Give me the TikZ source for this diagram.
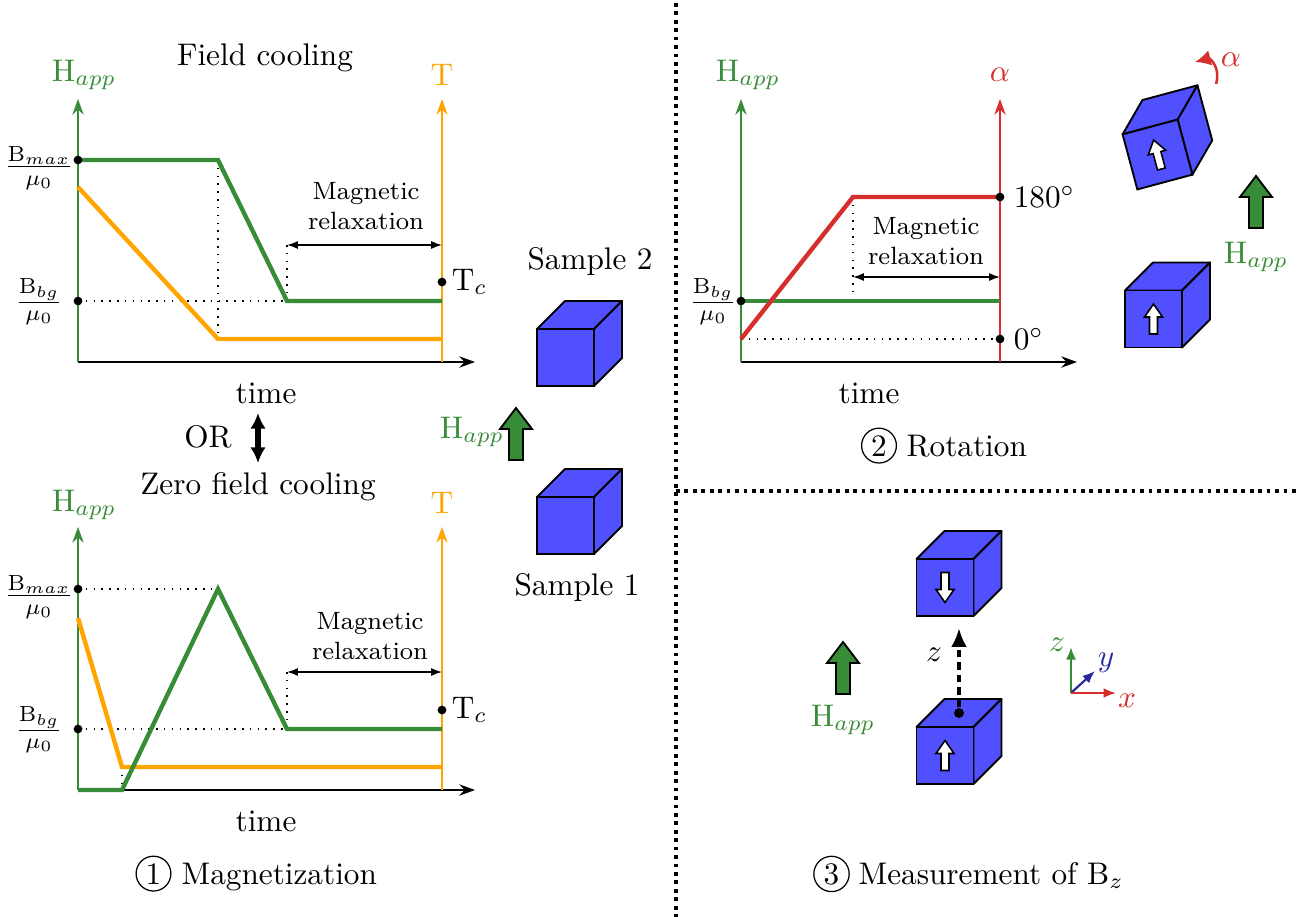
\documentclass[tikz,border=0pt]{standalone}
\usetikzlibrary{arrows.meta}
\definecolor{hgreen}{RGB}{56,140,56}
\definecolor{torange}{RGB}{255,165,0}
\definecolor{ared}{RGB}{214,45,45}
\definecolor{cubeblue}{RGB}{80,80,255}
\definecolor{ydark}{RGB}{40,40,160}
\tikzset{
  axisline/.style={line width=0.7pt,-{Stealth[length=5pt,width=3.6pt]}},
  curve/.style={line width=1.4pt},
  guide/.style={dotted,line width=0.5pt},
  relax/.style={line width=0.5pt,{Latex[length=3.5pt,width=2.6pt]}-{Latex[length=3.5pt,width=2.6pt]}},
  dot/.style={circle,fill=black,inner sep=0pt,minimum size=2.8pt},
  divider/.style={line width=1.2pt,dash pattern=on 1.2pt off 1.5pt},
  smalltext/.style={font=\footnotesize,align=center,inner sep=0pt},
  stepnum/.style={circle,draw,line width=0.4pt,inner sep=1pt},
  cube/.pic={
    \filldraw[fill=cubeblue,line width=0.6pt,line join=round]
      (-28.5,-28.5) -- (28.5,-28.5) -- (56.5,-56.5) -- (-0.5,-56.5) -- cycle;
    \filldraw[fill=cubeblue,line width=0.6pt,line join=round]
      (28.5,-28.5) -- (56.5,-56.5) -- (56.5,0.5) -- (28.5,28.5) -- cycle;
    \filldraw[fill=cubeblue,line width=0.6pt] (-28.5,-28.5) rectangle (28.5,28.5);
  },
  spinarrow/.pic={
    \filldraw[fill=white,line width=0.5pt,line join=miter]
      (0,-15) -- (9,-2) -- (4,-2) -- (4,15) -- (-4,15) -- (-4,-2) -- (-9,-2) -- cycle;
  },
  fieldarrow/.pic={
    \filldraw[fill=hgreen,line width=0.6pt,line join=miter]
      (0,-26) -- (16,-5) -- (7,-5) -- (7,26) -- (-7,26) -- (-7,-5) -- (-16,-5) -- cycle;
  },
}
\begin{document}
\begin{tikzpicture}[x=0.32pt,y=-0.32pt]
\useasboundingbox (0,0) rectangle (1313,917);

% ---------- separators ----------
\draw[divider] (676,3) -- (676,917);
\draw[divider] (676,491) -- (1300,491);

% ---------- 1: field cooling ----------
\node (fctitle) at (265,58) {Field cooling};
\coordinate (fco) at (78,362);
\draw[axisline] (fco) -- (475,362) coordinate (fctime);
\draw[axisline,hgreen] (fco) -- (78,99) coordinate (fcH);
\draw[axisline,torange] (442,362) -- (442,99) coordinate (fcT);
\node[hgreen] (fcHlab) at (84,75) {H$_{app}$};
\node[torange] (fcTlab) at (442,75) {T};
\node (fctimelab) at (266,393) {time};
\draw[guide] (78,301) -- (287,301);
\draw[guide] (218,160) -- (218,339);
\draw[guide] (287,245) -- (287,301);
\draw[curve,torange] (78,187) -- (218,339) -- (442,339);
\draw[curve,hgreen] (78,160) -- (218,160) -- (287,301) -- (442,301);
\node[dot] (fcmax) at (78,160) {};
\node[dot] (fcbg) at (78,301) {};
\node[dot] (fctc) at (442,282) {};
\node[anchor=west,inner sep=1pt] (fctclab) at (448,282) {T$_c$};
\node (fcmaxlab) at (39,168) {$\frac{\mathrm{B}_{max}}{\mu_0}$};
\node (fcbglab) at (39,302) {$\frac{\mathrm{B}_{bg}}{\mu_0}$};
\coordinate (fcr1) at (287,245);
\coordinate (fcr2) at (442,245);
\draw[relax] (fcr1) -- (fcr2);
\node[smalltext] (fcrlab) at (366,206) {Magnetic\\relaxation};

% OR
\node (orlab) at (208,437) {OR};
\coordinate (ortop) at (258,413);
\coordinate (orbot) at (258,463);
\draw[line width=2.2pt,{Latex[length=5pt,width=5pt]}-{Latex[length=5pt,width=5pt]}] (ortop) -- (orbot);

% ---------- 1: zero field cooling ----------
\node (zfctitle) at (258,487) {Zero field cooling};
\coordinate (zfo) at (78,790);
\draw[axisline] (zfo) -- (475,790) coordinate (zftime);
\draw[axisline,hgreen] (zfo) -- (78,527) coordinate (zfH);
\draw[axisline,torange] (442,790) -- (442,527) coordinate (zfT);
\node[hgreen] (zfHlab) at (84,505) {H$_{app}$};
\node[torange] (zfTlab) at (442,503) {T};
\node (zftimelab) at (266,821) {time};
\draw[guide] (78,589) -- (218,589);
\draw[guide] (78,729) -- (287,729);
\draw[guide] (122,767) -- (122,790);
\draw[guide] (287,672) -- (287,729);
\draw[curve,torange] (78,618) -- (122,767) -- (442,767);
\draw[curve,hgreen] (78,790) -- (122,790) -- (218,589) -- (287,729) -- (442,729);
\node[dot] (zfmax) at (78,589) {};
\node[dot] (zfbg) at (78,729) {};
\node[dot] (zftc) at (442,710) {};
\node[anchor=west,inner sep=1pt] (zftclab) at (448,710) {T$_c$};
\node (zfmaxlab) at (39,597) {$\frac{\mathrm{B}_{max}}{\mu_0}$};
\node (zfbglab) at (39,730) {$\frac{\mathrm{B}_{bg}}{\mu_0}$};
\coordinate (zfr1) at (287,672);
\coordinate (zfr2) at (442,672);
\draw[relax] (zfr1) -- (zfr2);
\node[smalltext] (zfrlab) at (370,636) {Magnetic\\relaxation};
\node[stepnum,anchor=base] (num1) at (153.5,884) {1};
\node[anchor=base west,inner sep=0pt] (magtitle) at (181,884) {Magnetization};

% samples
\node (s2lab) at (590,262) {Sample 2};
\pic at (565.5,357.5) {cube};
\pic at (565.5,525.5) {cube};
\node (s1lab) at (577,588) {Sample 1};
\pic at (516,434) {fieldarrow};
\node[hgreen] (p1Hlab) at (472,432) {H$_{app}$};

% ---------- 2: rotation ----------
\coordinate (ro) at (741,362);
\draw[axisline] (ro) -- (1077,362) coordinate (rtime);
\draw[axisline,hgreen] (ro) -- (741,99) coordinate (rH);
\draw[axisline,ared] (1000,362) -- (1000,99) coordinate (ralpha);
\node[hgreen] (rHlab) at (748,75) {H$_{app}$};
\node[ared] (ralab) at (1000,75) {$\alpha$};
\node (rtimelab) at (869,393) {time};
\draw[guide] (741,339) -- (1000,339);
\draw[guide] (853,197) -- (853,301);
\draw[curve,hgreen] (741,301) -- (1000,301);
\draw[curve,ared] (741,339) -- (853,197) -- (1000,197);
\node[dot] (rbg) at (741,301) {};
\node[dot] (r180) at (1000,197) {};
\node[dot] (r0) at (1000,339) {};
\node[anchor=west,inner sep=1pt] (r180lab) at (1010,197) {$180^\circ$};
\node[anchor=west,inner sep=1pt] (r0lab) at (1010,339) {$0^\circ$};
\node (rbglab) at (713,302) {$\frac{\mathrm{B}_{bg}}{\mu_0}$};
\coordinate (rr1) at (853,277);
\coordinate (rr2) at (1000,277);
\draw[relax] (rr1) -- (rr2);
\node[smalltext] (rrlab) at (926,241) {Magnetic\\relaxation};
\node[stepnum,anchor=base] (num2) at (879,456) {2};
\node[anchor=base west,inner sep=0pt] (rottitle) at (906,456) {Rotation};

\pic[rotate=15] at (1157.5,154.5) {cube};
\pic[rotate=15] at (1157.5,154.5) {spinarrow};
\pic at (1153.5,319) {cube};
\pic at (1153.5,319) {spinarrow};
\pic at (1256,202) {fieldarrow};
\node[hgreen] (r2Hlab) at (1256,257) {H$_{app}$};
\coordinate (arcstart) at (1216,84);
\coordinate (arcend) at (1195,62);
\draw[ared,line width=0.8pt,-{Latex[length=5pt,width=5pt]}]
  (arcstart) .. controls (1221,68) and (1210,58) .. (arcend);
\node[ared] (arclab) at (1231,60) {$\alpha$};

% ---------- 3: measurement ----------
\pic at (945,587.5) {cube};
\pic[rotate=180] at (945,587.5) {spinarrow};
\pic at (945,755.5) {cube};
\pic at (945,755.5) {spinarrow};
\node[circle,fill=black,inner sep=0pt,minimum size=3.2pt] (zbase) at (959,713) {};
\coordinate (ztip) at (959,628);
\draw[line width=1.2pt,dash pattern=on 2.5pt off 1.5pt,-{Latex[length=6pt,width=5pt]}] (zbase) -- (ztip);
\node (zlab) at (934,655) {$z$};
\pic at (843,668) {fieldarrow};
\node[hgreen] (m3Hlab) at (843,720) {H$_{app}$};

\coordinate (origin) at (1071,693);
\draw[hgreen,line width=0.7pt,-{Latex[length=4pt,width=3.2pt]}] (origin) -- (1071,647) coordinate (zax);
\draw[ydark,line width=0.7pt,-{Latex[length=4pt,width=3.2pt]}] (origin) -- (1095,671) coordinate (yax);
\draw[ared,line width=0.7pt,-{Latex[length=4pt,width=3.2pt]}] (origin) -- (1116,693) coordinate (xax);
\node[hgreen] (zaxlab) at (1057,645) {$z$};
\node[ydark] (yaxlab) at (1106,663) {$y$};
\node[ared] (xaxlab) at (1127,701) {$x$};
\node[stepnum,anchor=base] (num3) at (831.5,884) {3};
\node[anchor=base west,inner sep=0pt] (meastitle) at (858,884) {Measurement of B$_z$};
\end{tikzpicture}
\end{document}
